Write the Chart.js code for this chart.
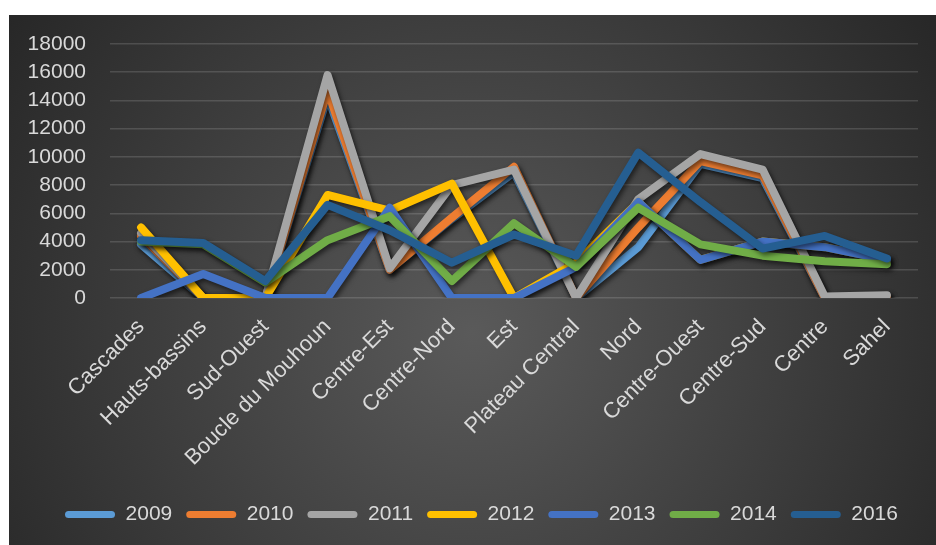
<!DOCTYPE html>
<html lang="fr">
<head>
    <meta charset="UTF-8">
    <title>Regions par annee</title>
    <style>
        body {
            margin: 0;
            background: #ffffff;
            font-family: "Liberation Sans", Arial, sans-serif;
        }
        .chart-container {
            position: absolute;
            left: 9px;
            top: 15px;
            width: 927px;
            height: 530px;
        }
    </style>
    <script src="https://cdn.jsdelivr.net/npm/chart.js"></script>
</head>
<body>
    <div class="chart-container">
        <canvas id="regionChart"></canvas>
    </div>

    <script>
        // Categories and values
        const regions = ['Cascades', 'Hauts-bassins', 'Sud-Ouest', 'Boucle du Mouhoun', 'Centre-Est',
            'Centre-Nord', 'Est', 'Plateau Central', 'Nord', 'Centre-Ouest', 'Centre-Sud', 'Centre', 'Sahel'];
        const years = ['2009', '2010', '2011', '2012', '2013', '2014', '2016'];

        const values2009 = [3800, 0, 0, 14300, 2000, 5600, 8900, 0, 3600, 9500, 8500, 0, 100];
        const values2010 = [4400, 0, 0, 14700, 2000, 5700, 9300, 0, 5000, 9700, 8700, 0, 100];
        const values2011 = [4600, 0, 0, 15800, 2100, 8000, 9100, 0, 7000, 10200, 9100, 100, 200];
        const values2012 = [5000, 0, 0, 7300, 6200, 8100, 0, 2500, 6800, 2700, 4000, 3600, 2700];
        const values2013 = [0, 1700, 0, 0, 6400, 0, 0, 2200, 6800, 2700, 4000, 3600, 2700];
        const values2014 = [4000, 3800, 1100, 4100, 5800, 1200, 5300, 2200, 6400, 3800, 3000, 2600, 2400];
        const values2016 = [4100, 3900, 1200, 6600, 4800, 2500, 4500, 3000, 10300, 6800, 3500, 4400, 2800];

        const yMin = 0;
        const yMax = 18000;
        const yStep = 2000;

        const seriesValues = [values2009, values2010, values2011, values2012, values2013, values2014, values2016];
        const seriesColors = ['#5B9BD5', '#ED7D31', '#A5A5A5', '#FFC000', '#4472C4', '#70AD47', '#255E91'];

        // dark radial background like the office style
        const background = {
            id: 'background',
            beforeDraw(chart) {
                const { ctx, width, height } = chart;
                const cx = width * 0.5, cy = height * 0.6;
                const g = ctx.createRadialGradient(cx, cy, 0, cx, cy, width * 0.62);
                g.addColorStop(0, '#5a5a5a');
                g.addColorStop(1, '#262626');
                ctx.save();
                ctx.fillStyle = g;
                ctx.fillRect(0, 0, width, height);
                ctx.restore();
            }
        };

        // soft drop shadow under each line
        const lineShadow = {
            id: 'lineShadow',
            beforeDatasetDraw(chart) {
                const ctx = chart.ctx;
                ctx.save();
                ctx.shadowColor = 'rgba(0, 0, 0, 0.55)';
                ctx.shadowBlur = 5;
                ctx.shadowOffsetX = 2;
                ctx.shadowOffsetY = 3;
            },
            afterDatasetDraw(chart) {
                chart.ctx.restore();
            }
        };

        // nudge the legend so it sits centred under the plot like the original
        const legendShift = {
            id: 'legendShift',
            afterLayout(chart) {
                chart.legend.left += 18;
                chart.legend.right += 18;
            }
        };

        const datasets = years.map((year, i) => ({
            label: year,
            data: seriesValues[i],
            borderColor: seriesColors[i],
            backgroundColor: seriesColors[i],
            order: years.length - i // later years drawn on top
        }));

        const ctx = document.getElementById('regionChart').getContext('2d');
        new Chart(ctx, {
            type: 'line',
            data: { labels: regions, datasets: datasets },
            plugins: [background, lineShadow, legendShift],
            options: {
                responsive: true,
                maintainAspectRatio: false,
                animation: false,
                layout: { padding: { left: 0, right: 18, top: 29, bottom: 10 } },
                elements: {
                    point: { radius: 0, hoverRadius: 0 },
                    line: { borderWidth: 8, tension: 0, borderCapStyle: 'round', borderJoinStyle: 'round', fill: false }
                },
                scales: {
                    y: {
                        min: yMin,
                        max: yMax,
                        ticks: {
                            stepSize: yStep,
                            autoSkip: false,
                            callback: value => String(value),
                            color: '#d9d9d9',
                            font: { family: '"Liberation Sans", Arial', size: 21 },
                            padding: 24
                        },
                        grid: { color: 'rgba(255, 255, 255, 0.14)', lineWidth: 1.5, drawTicks: false },
                        border: { display: false },
                        afterFit(scale) {
                            scale.width = 101;
                            scale.paddingTop = 0;
                            scale.paddingBottom = 0;
                        }
                    },
                    x: {
                        offset: true,
                        ticks: {
                            autoSkip: false,
                            minRotation: 45,
                            maxRotation: 45,
                            color: '#d9d9d9',
                            font: { family: '"Liberation Sans", Arial', size: 22 },
                            padding: 8
                        },
                        grid: { display: false },
                        border: { display: false },
                        afterFit(scale) { scale.height = 192; }
                    }
                },
                plugins: {
                    tooltip: { enabled: false },
                    legend: {
                        position: 'bottom',
                        labels: {
                            color: '#d9d9d9',
                            font: { family: '"Liberation Sans", Arial', size: 21 },
                            boxWidth: 50,
                            boxHeight: 7,
                            padding: 14,
                            useBorderRadius: true,
                            borderRadius: 3.5,
                            sort: (a, b) => a.datasetIndex - b.datasetIndex,
                            generateLabels(chart) {
                                return Chart.defaults.plugins.legend.labels.generateLabels(chart)
                                    .map(item => Object.assign(item, { lineWidth: 0 }));
                            }
                        }
                    }
                }
            }
        });
    </script>
</body>
</html>
